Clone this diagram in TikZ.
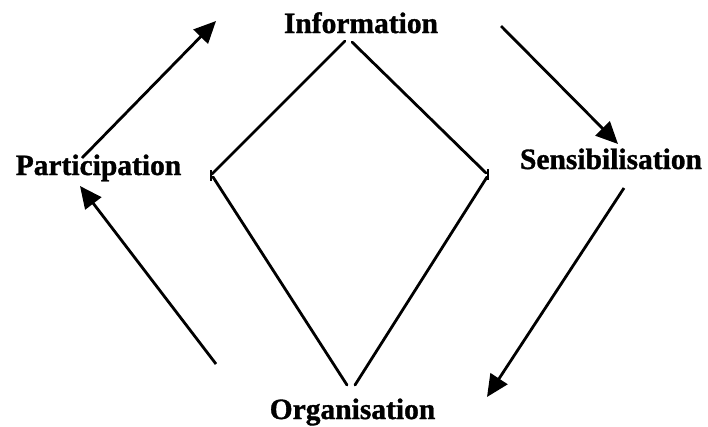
\documentclass[tikz,border=0pt]{standalone}
\usepackage{fontspec}
\setmainfont{Liberation Serif}[BoldFeatures={FakeBold=1.2}]
\usetikzlibrary{arrows.meta}
\begin{document}
\begin{tikzpicture}[x=1pt,y=-1pt,
  lbl/.style={font=\fontsize{29.5}{32}\selectfont\bfseries, anchor=base, inner sep=0pt},
  flow/.style={line width=2.8pt, -{Triangle[length=22pt,width=20pt]}},
  edge/.style={line width=2.8pt, line cap=round},
  tick/.style={line width=2.2pt}]
\useasboundingbox (0,0) rectangle (708,426);
\node[lbl] (info) at (361,33) {Information};
\node[lbl] (part) at (98.5,175) {Participation};
\node[lbl] (sens) at (611,169) {Sensibilisation};
\node[lbl] (org) at (352.5,419) {Organisation};
% flow arrows
\coordinate (a1s) at (82,158);  \coordinate (a1e) at (216,21);
\coordinate (a2s) at (501,26);  \coordinate (a2e) at (618,144);
\coordinate (a3s) at (624,188); \coordinate (a3e) at (487,397);
\coordinate (a4s) at (216,364); \coordinate (a4e) at (80,186);
\draw[flow] (a1s) -- (a1e);
\draw[flow] (a2s) -- (a2e);
\draw[flow] (a3s) -- (a3e);
\draw[flow] (a4s) -- (a4e);
% diamond
\coordinate (tl) at (345,41);  \coordinate (tr) at (352,42);
\coordinate (l1) at (212,174); \coordinate (l2) at (213,177);
\coordinate (r1) at (486,173); \coordinate (r2) at (487,177);
\coordinate (bl) at (347,385); \coordinate (br) at (355,385);
\draw[edge] (tl) -- (l1);
\draw[edge] (l2) -- (bl);
\draw[edge] (tr) -- (r1);
\draw[edge] (r2) -- (br);
\coordinate (lt1) at (211,170); \coordinate (lt2) at (211,181);
\coordinate (rt1) at (488,169); \coordinate (rt2) at (488,180);
\draw[tick] (lt1) -- (lt2);
\draw[tick] (rt1) -- (rt2);
\end{tikzpicture}
\end{document}
